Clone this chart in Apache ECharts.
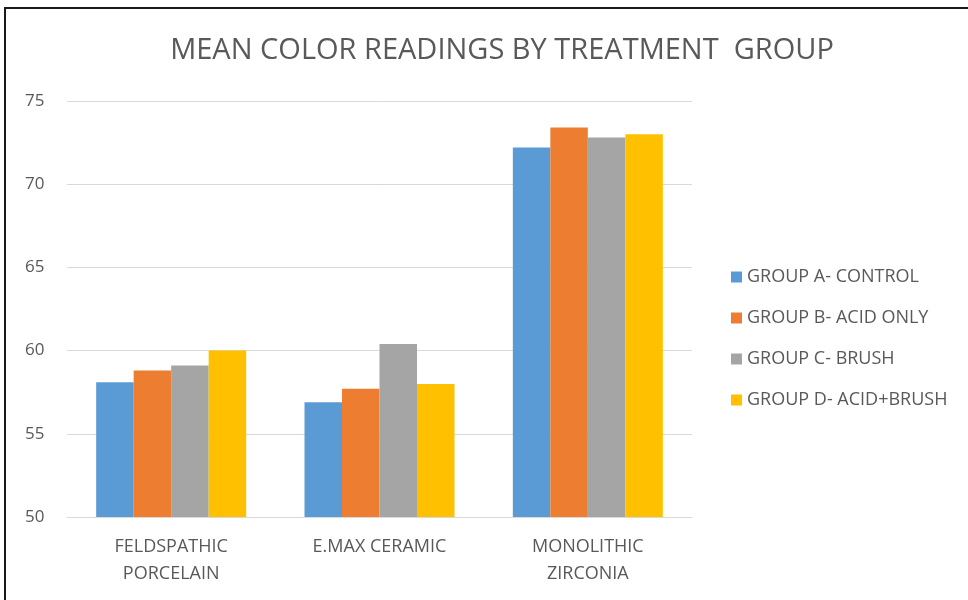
<!DOCTYPE html>
<html>
<head>
<meta charset="utf-8">
<script src="https://cdn.jsdelivr.net/npm/echarts@6/dist/echarts.min.js"></script>
<style>
  html, body { margin: 0; padding: 0; background: #fff; }
  #chart { width: 968px; height: 600px; }
</style>
</head>
<body>
<div id="chart"></div>
<script>
// data
const categories = ['FELDSPATHIC\nPORCELAIN', 'E.MAX CERAMIC', 'MONOLITHIC\nZIRCONIA']
const groupNames = ['GROUP A- CONTROL', 'GROUP B- ACID ONLY', 'GROUP C- BRUSH', 'GROUP D- ACID+BRUSH']
const groupA = [58.1, 56.9, 72.2]
const groupB = [58.8, 57.7, 73.4]
const groupC = [59.1, 60.4, 72.8]
const groupD = [60.0, 58.0, 73.0]
const colors = ['#5B9BD5', '#ED7D31', '#A5A5A5', '#FFC000']

const chart = echarts.init(document.getElementById('chart'))
const font = '"Open Sans", "Noto Sans", sans-serif'

const values = [groupA, groupB, groupC, groupD]
const series = groupNames.map((name, i) => ({
  name: name,
  type: 'bar',
  data: values[i],
  barGap: '0%',
  barCategoryGap: '28%',
  itemStyle: { color: colors[i] }
}))

chart.setOption({
  animation: false,
  color: colors,
  // outer frame of the figure
  graphic: [{
    type: 'rect',
    shape: { x: 5, y: 8, width: 1000, height: 700 },
    style: { fill: 'none', stroke: '#1a1a1a', lineWidth: 2 },
    z: -1
  }],
  title: {
    text: 'MEAN COLOR READINGS BY TREATMENT  GROUP',
    left: 497,
    top: 31,
    textAlign: 'center',
    textStyle: { fontFamily: font, fontSize: 29, fontWeight: 'normal', color: '#595959' }
  },
  legend: {
    orient: 'vertical',
    left: 726,
    top: 263,
    itemWidth: 11,
    itemHeight: 11,
    itemGap: 23,
    icon: 'rect',
    textStyle: { fontFamily: font, fontSize: 18, color: '#595959' },
    data: groupNames
  },
  grid: { left: 67, right: 276, top: 101, bottom: 83, containLabel: false },
  xAxis: {
    type: 'category',
    data: categories,
    axisLine: { show: true, lineStyle: { color: '#d9d9d9' } },
    axisTick: { show: false },
    axisLabel: {
      fontFamily: font, fontSize: 18, color: '#595959',
      margin: 16, lineHeight: 27
    }
  },
  yAxis: {
    type: 'value',
    min: 50,
    max: 75,
    interval: 5,
    axisLine: { show: false },
    axisTick: { show: false },
    splitLine: { lineStyle: { color: '#d9d9d9' } },
    axisLabel: { fontFamily: font, fontSize: 17, color: '#595959', margin: 42, align: 'left' }
  },
  series: series
})
</script>
</body>
</html>
